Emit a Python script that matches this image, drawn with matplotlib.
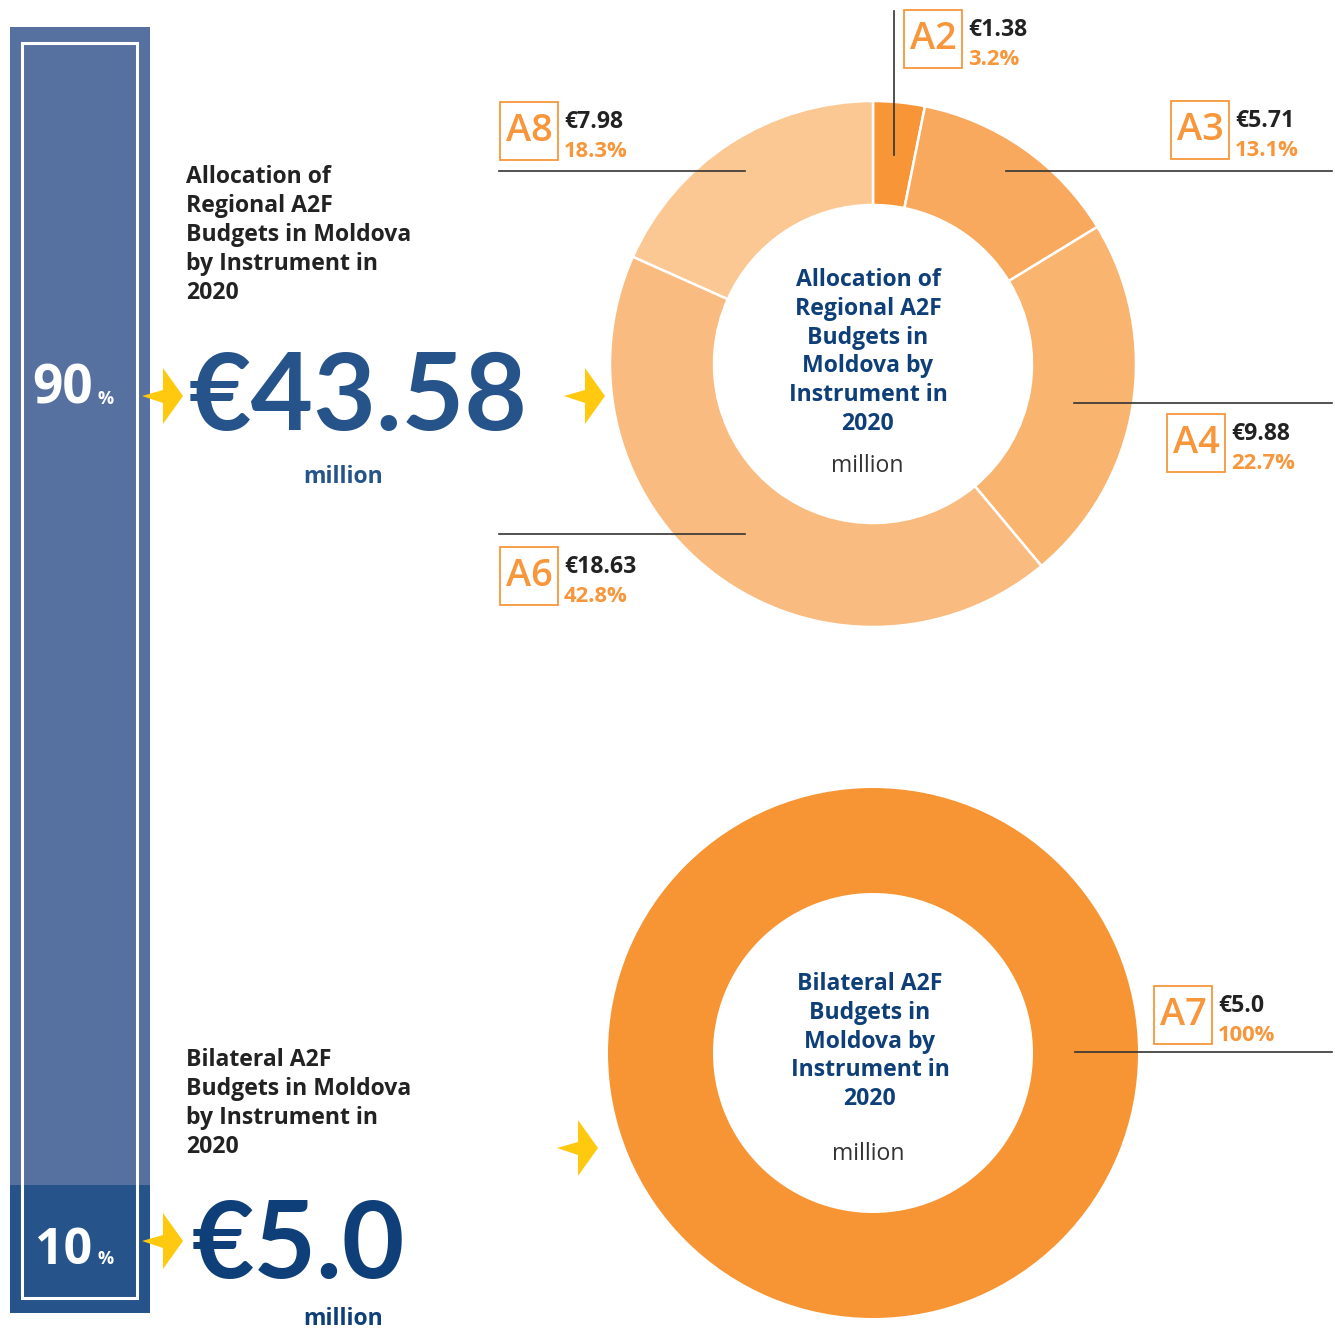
import matplotlib
matplotlib.use("Agg")
import matplotlib.pyplot as plt
from matplotlib.patches import Rectangle, Polygon

W, H = 1335, 1329
FONT = ["Open Sans", "DejaVu Sans"]
BIGFONT = ["Lato", "DejaVu Sans"]
plt.rcParams['font.family'] = FONT

# ---------------- data ----------------
regional_labels = ["A2", "A3", "A4", "A6", "A8"]
regional_values = [1.38, 5.71, 9.88, 18.63, 7.98]
regional_value_text = ["€1.38", "€5.71", "€9.88", "€18.63", "€7.98"]
regional_pct_text = ["3.2%", "13.1%", "22.7%", "42.8%", "18.3%"]
regional_colors = ["#F89637", "#F8A95E", "#F9B46F", "#F9BB7F", "#FBC894"]

bilateral_labels = ["A7"]
bilateral_values = [5.0]
bilateral_value_text = ["€5.0"]
bilateral_pct_text = ["100%"]
bilateral_colors = ["#F79535"]

share_labels = ["90%", "10%"]
total_labels = ["€43.58", "€5.0"]

ORANGE = "#F7963A"
BLUE = "#25538A"
DARKBLUE = "#0F3F78"
DARK = "#222222"

fig = plt.figure(figsize=(W / 100, H / 100), dpi=100)
ax = fig.add_axes([0, 0, 1, 1])


def Y(y):
    return H - y


def T(x, y, s, px, **kw):
    kw.setdefault("family", FONT)
    ax.text(x, Y(y), s, fontsize=px * 0.72, **kw)


# ---------------- left bar ----------------
ax.add_patch(Rectangle((10, Y(1185)), 140, 1185 - 27, facecolor="#5670A0", edgecolor="none"))
ax.add_patch(Rectangle((10, Y(1313)), 140, 1313 - 1185, facecolor="#25538A", edgecolor="none"))
ax.add_patch(Rectangle((22, Y(1298)), 115, 1298 - 43, facecolor="none", edgecolor="white", linewidth=2.2))

# shares
T(32, 404, share_labels[0][:-1], 53, color="white", fontweight="bold", va="baseline", ha="left")
T(97, 404, "%", 18, color="white", fontweight="bold", va="baseline", ha="left")
T(35, 1264, share_labels[1][:-1], 50, color="white", fontweight="bold", va="baseline", ha="left")
T(97, 1264, "%", 18, color="white", fontweight="bold", va="baseline", ha="left")


# ---------------- arrows ----------------
def arrow(tx, ty):
    pts = [(tx - 20, ty - 28), (tx, ty), (tx - 20, ty + 28), (tx - 20, ty + 7),
           (tx - 41, ty), (tx - 20, ty - 6)]
    ax.add_patch(Polygon([(x, Y(y)) for x, y in pts], closed=True,
                         facecolor="#FEC90E", edgecolor="none"))


arrow(183, 396)
arrow(605, 396)
arrow(183, 1241)
arrow(598, 1148)

# ---------------- left texts ----------------
desc1 = ["Allocation of", "Regional A2F", "Budgets in Moldova", "by Instrument in", "2020"]
for i, line in enumerate(desc1):
    T(186, 183 + i * 29, line, 23, color=DARK, fontweight="bold", va="baseline", ha="left")
desc2 = ["Bilateral A2F", "Budgets in Moldova", "by Instrument in", "2020"]
for i, line in enumerate(desc2):
    T(186, 1066 + i * 29, line, 23, color=DARK, fontweight="bold", va="baseline", ha="left")

T(358, 430, total_labels[0], 108, color=BLUE, fontweight="bold", va="baseline", ha="center",
  family=BIGFONT)
T(343, 483, "million", 23, color=BLUE, fontweight="bold", va="baseline", ha="center")
T(298, 1278, total_labels[1], 108, color=DARKBLUE, fontweight="bold", va="baseline", ha="center",
  family=BIGFONT)
T(343, 1325, "million", 23, color=DARKBLUE, fontweight="bold", va="baseline", ha="center")

# ---------------- donuts ----------------
c1 = (873, Y(364))
ax.pie(regional_values, colors=regional_colors, startangle=90, counterclock=False,
       radius=263, center=c1, frame=True,
       wedgeprops=dict(width=104, edgecolor="white", linewidth=1.8))
c2 = (873, Y(1053))
ax.pie(bilateral_values, colors=bilateral_colors, startangle=90, counterclock=False,
       radius=265, center=c2, frame=True,
       wedgeprops=dict(width=105, edgecolor="none", linewidth=0))

center1 = ["Allocation of", "Regional A2F", "Budgets in", "Moldova by", "Instrument in", "2020"]
for i, line in enumerate(center1):
    T(868, 286 + i * 28.8, line, 23, color=DARKBLUE, fontweight="bold", va="baseline", ha="center")
T(867, 472, "million", 23, color="#333333", va="baseline", ha="center")

center2 = ["Bilateral A2F", "Budgets in", "Moldova by", "Instrument in", "2020"]
for i, line in enumerate(center2):
    T(870, 990 + i * 28.8, line, 23, color=DARKBLUE, fontweight="bold", va="baseline", ha="center")
T(868, 1160, "million", 23, color="#333333", va="baseline", ha="center")


# ---------------- callout labels ----------------
def callout(bx, by, code, val, pct):
    ax.add_patch(Rectangle((bx, Y(by + 58)), 58, 58, facecolor="none",
                           edgecolor=ORANGE, linewidth=1.3))
    T(bx + 29, by + 29, code, 38, color=ORANGE, fontweight="semibold", va="center", ha="center")
    T(bx + 64, by + 26, val, 23, color=DARK, fontweight="bold", va="baseline", ha="left")
    T(bx + 64, by + 55, pct, 22, color=ORANGE, fontweight="bold", va="baseline", ha="left")


# positions for A2, A3, A4, A6, A8 boxes
box_pos = [(904, 10), (1171, 101), (1167, 414), (500, 547), (500, 102)]
for (bx, by), code, v, p in zip(box_pos, regional_labels, regional_value_text, regional_pct_text):
    callout(bx, by, code, v, p)
callout(1154, 986, bilateral_labels[0], bilateral_value_text[0], bilateral_pct_text[0])

LC = "#333333"
ax.plot([894, 894], [Y(11), Y(155)], color=LC, lw=1.2)
ax.plot([1006, 1332], [Y(171), Y(171)], color=LC, lw=1.2)
ax.plot([1074, 1332], [Y(403), Y(403)], color=LC, lw=1.2)
ax.plot([499, 745], [Y(534), Y(534)], color=LC, lw=1.2)
ax.plot([499, 745], [Y(171), Y(171)], color=LC, lw=1.2)
ax.plot([1075, 1332], [Y(1052), Y(1052)], color=LC, lw=1.2)

ax.set_xlim(0, W)
ax.set_ylim(0, H)
ax.set_aspect("equal")
ax.axis("off")

fig.savefig("out.png", dpi=100, facecolor="white")
